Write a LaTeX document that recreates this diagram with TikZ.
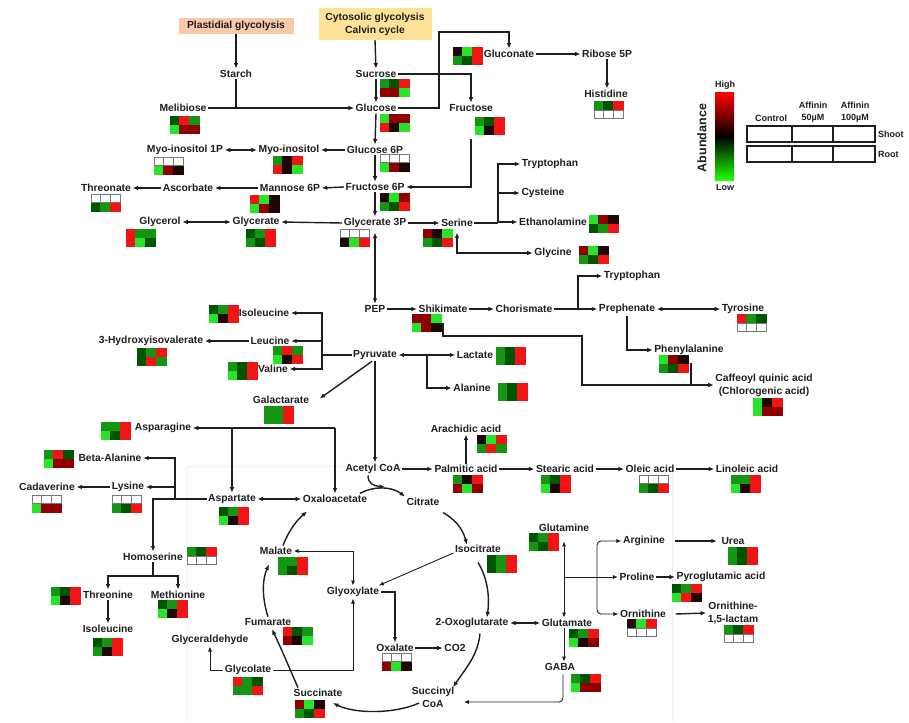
\documentclass[tikz,border=0pt]{standalone}
\usepackage{fontspec}
\setmainfont{Liberation Sans}
\usetikzlibrary{arrows.meta,calc}
\definecolor{hG}{RGB}{40,228,40}\definecolor{bG}{RGB}{40,228,40}
\definecolor{hg}{RGB}{20,150,20}\definecolor{bg}{RGB}{20,150,20}
\definecolor{hd}{RGB}{0,85,0}\definecolor{bd}{RGB}{0,85,0}
\definecolor{hk}{RGB}{30,8,5}\definecolor{bk}{RGB}{30,8,5}
\definecolor{hr}{RGB}{145,0,0}\definecolor{br}{RGB}{145,0,0}
\definecolor{hR}{RGB}{240,20,20}\definecolor{bR}{RGB}{240,20,20}
\definecolor{hW}{RGB}{255,255,255}\definecolor{bW}{RGB}{120,120,120}
\definecolor{txt}{RGB}{30,30,30}
\definecolor{peach}{RGB}{248,202,172}
\definecolor{gold}{RGB}{252,226,150}
\newcommand{\hmap}[3]{%
  \begin{scope}[shift={(#1)}]
    \foreach \c [count=\i from 0] in {#2} {\path[fill=h\c, draw=b\c, line width=0.7pt] (\i*9.8,0) rectangle ++(9.8,8);}
    \foreach \c [count=\i from 0] in {#3} {\path[fill=h\c, draw=b\c, line width=0.7pt] (\i*9.8,9.8) rectangle ++(9.8,8);}
  \end{scope}}
\tikzset{
  lbl/.style={font=\bfseries\fontsize{10.3}{12.8}\selectfont, text=txt, inner sep=1.5pt, align=center},
  leg/.style={font=\bfseries\fontsize{9}{11.5}\selectfont, text=txt, inner sep=1pt, align=center},
  conn/.style={line width=1.4pt, draw=txt},
  arr/.style={conn, -{Latex[length=5.5pt,width=4.6pt]}},
  darr/.style={conn, {Latex[length=5.5pt,width=4.6pt]}-{Latex[length=5.5pt,width=4.6pt]}},
  thn/.style={line width=0.9pt, draw=txt},
  tarr/.style={thn, -{Latex[length=5pt,width=4.2pt]}},
  tdarr/.style={thn, {Latex[length=5pt,width=4.2pt]}-{Latex[length=5pt,width=4.2pt]}},
}
\begin{document}
\begin{tikzpicture}[x=1pt,y=-1pt]
\useasboundingbox (0,0) rectangle (909,722);
\fill[white] (0,0) rectangle (909,722);
\draw[gray!12, line width=0.6pt] (187,722) -- (187,466) -- (672,466) -- (672,722);
% ---------- boxes
\node[lbl, fill=peach, minimum width=115pt, minimum height=16pt] (plast) at (236,26) {Plastidial glycolysis};
\node[lbl, fill=gold, minimum width=113pt, minimum height=32pt] (cyto) at (375,24) {Cytosolic glycolysis\\Calvin cycle};
% ---------- labels
\node[lbl] (starch) at (236,74) {Starch};
\node[lbl] (sucrose) at (376,74) {Sucrose};
\node[lbl] (melibiose) at (183,108) {Melibiose};
\node[lbl] (glucose) at (376,108) {Glucose};
\node[lbl] (fructose) at (471,108) {Fructose};
\node[lbl] (gluconate) at (509,54) {Gluconate};
\node[lbl] (ribose) at (607,54) {Ribose 5P};
\node[lbl] (histidine) at (606,94) {Histidine};
\node[lbl] (myo1p) at (185,150) {Myo-inositol 1P};
\node[lbl] (myo) at (289,150) {Myo-inositol};
\node[lbl] (g6p) at (375,150) {Glucose 6P};
\node[lbl] (threonate) at (106,188) {Threonate};
\node[lbl] (ascorbate) at (188,188) {Ascorbate};
\node[lbl] (man6p) at (290,188) {Mannose 6P};
\node[lbl] (f6p) at (375,187) {Fructose 6P};
\node[lbl] (glycerol) at (160,222) {Glycerol};
\node[lbl] (glycerate) at (256,222) {Glycerate};
\node[lbl] (g3p) at (375,223) {Glycerate 3P};
\node[lbl] (serine) at (457,223) {Serine};
\node[lbl] (trp1) at (550,164) {Tryptophan};
\node[lbl] (cys) at (543,193) {Cysteine};
\node[lbl] (ethanol) at (553,222) {Ethanolamine};
\node[lbl] (glycine) at (553,253) {Glycine};
\node[lbl] (pep) at (375,309) {PEP};
\node[lbl] (shik) at (443,309) {Shikimate};
\node[lbl] (chor) at (524,309) {Chorismate};
\node[lbl] (trp2) at (632,276) {Tryptophan};
\node[lbl] (preph) at (627,309) {Prephenate};
\node[lbl] (tyr) at (743,309) {Tyrosine};
\node[lbl] (phe) at (689,350) {Phenylalanine};
\node[lbl] (caff) at (764,385) {Caffeoyl quinic acid\\(Chlorogenic acid)};
\node[lbl] (ile1) at (264,313) {Isoleucine};
\node[lbl] (leu) at (270,341) {Leucine};
\node[lbl] (hiv) at (151,341) {3-Hydroxyisovalerate};
\node[lbl] (val) at (273,369) {Valine};
\node[lbl] (pyr) at (375,355) {Pyruvate};
\node[lbl] (lact) at (475,355) {Lactate};
\node[lbl] (ala) at (472,388) {Alanine};
\node[lbl] (galact) at (281,400) {Galactarate};
\node[lbl] (asn) at (163,428) {Asparagine};
\node[lbl] (arach) at (466,429) {Arachidic acid};
\node[lbl] (bala) at (110,458) {Beta-Alanine};
\node[lbl] (acoa) at (373,469) {Acetyl CoA};
\node[lbl] (palm) at (466,469) {Palmitic acid};
\node[lbl] (stear) at (565,469) {Stearic acid};
\node[lbl] (oleic) at (650,469) {Oleic acid};
\node[lbl] (linol) at (747,469) {Linoleic acid};
\node[lbl] (cadav) at (47,487) {Cadaverine};
\node[lbl] (lys) at (128,487) {Lysine};
\node[lbl] (asp) at (232,499) {Aspartate};
\node[lbl] (oaa) at (335,499) {Oxaloacetate};
\node[lbl] (cit) at (423,502) {Citrate};
\node[lbl] (glutamine) at (564,528) {Glutamine};
\node[lbl] (iso) at (478,549) {Isocitrate};
\node[lbl] (malate) at (276,551) {Malate};
\node[lbl] (arg) at (644,541) {Arginine};
\node[lbl] (urea) at (733,541) {Urea};
\node[lbl] (homoser) at (153,557) {Homoserine};
\node[lbl] (pro) at (637,577) {Proline};
\node[lbl] (pyroglu) at (721,577) {Pyroglutamic acid};
\node[lbl] (glyox) at (353,592) {Glyoxylate};
\node[lbl] (thr) at (108,595) {Threonine};
\node[lbl] (met) at (178,595) {Methionine};
\node[lbl] (ornith) at (643,614) {Ornithine};
\node[lbl] (lactam) at (733,613) {Ornithine-\\1,5-lactam};
\node[lbl] (fum) at (268,622) {Fumarate};
\node[lbl] (oxog) at (472,623) {2-Oxoglutarate};
\node[lbl] (glu) at (567,623) {Glutamate};
\node[lbl] (ile2) at (108,629) {Isoleucine};
\node[lbl] (glyald) at (210,640) {Glyceraldehyde};
\node[lbl] (oxal) at (395,648) {Oxalate};
\node[lbl] (co2) at (455,648) {CO2};
\node[lbl] (gaba) at (560,667) {GABA};
\node[lbl] (glycol) at (248,670) {Glycolate};
\node[lbl] (succ) at (318,693) {Succinate};
\node[lbl] (succoa) at (433,697) {Succinyl\\CoA};
% ---------- heatmaps
\hmap{170,116}{d,R,g}{G,r,r}
\hmap{154,157}{W,W,W}{G,r,k}
\hmap{273,156}{g,k,R}{R,k,G}
\hmap{91,194}{W,W,W}{d,g,R}
\hmap{250,195}{R,G,k}{G,r,k}
\hmap{126,229}{R,g,g}{R,G,d}
\hmap{246,229}{d,g,R}{g,d,R}
\hmap{340,229}{W,W,W}{k,G,R}
\hmap{380,193}{k,G,r}{g,d,R}
\hmap{423,229}{r,k,G}{g,d,R}
\hmap{589,215}{G,r,k}{d,g,R}
\hmap{579,246}{r,G,k}{g,d,R}
\hmap{380,79}{g,d,R}{r,r,G}
\hmap{380,114}{G,r,r}{R,k,G}
\hmap{475,117}{g,d,R}{G,k,R}
\hmap{453,47}{k,G,R}{g,d,R}
\hmap{594,101}{g,d,R}{W,W,W}
\hmap{380,154}{W,W,W}{G,r,k}
\hmap{209,305}{d,g,R}{G,k,R}
\hmap{273,346}{g,R,g}{G,k,R}
\hmap{137,348}{d,g,R}{d,R,g}
\hmap{228,362}{g,d,R}{G,d,R}
\hmap{264,406}{g,g,R}{g,g,R}
\hmap{101,422}{g,g,R}{G,d,R}
\hmap{44,450}{g,R,d}{G,r,r}
\hmap{112,495}{W,W,W}{g,d,R}
\hmap{32,495}{W,W,W}{G,r,r}
\hmap{219,507}{d,g,R}{G,k,R}
\hmap{187,547}{g,d,R}{W,W,W}
\hmap{51,587}{g,d,R}{G,k,R}
\hmap{158,600}{d,g,R}{G,k,R}
\hmap{93,638}{d,g,R}{g,k,R}
\hmap{278,557}{g,g,R}{g,d,R}
\hmap{283,627}{R,d,g}{r,k,G}
\hmap{233,677}{R,g,d}{g,g,R}
\hmap{295,700}{r,G,k}{g,d,R}
\hmap{382,653}{W,W,W}{r,G,k}
\hmap{487,555}{d,g,R}{d,g,R}
\hmap{529,533}{d,g,R}{g,d,R}
\hmap{569,629}{d,g,R}{G,k,r}
\hmap{571,674}{g,d,R}{G,r,r}
\hmap{728,547}{g,d,R}{g,d,R}
\hmap{672,584}{d,g,R}{G,R,k}
\hmap{627,619}{k,G,R}{W,W,W}
\hmap{724,625}{g,d,R}{W,W,W}
\hmap{412,314}{r,r,G}{G,r,k}
\hmap{737,314}{R,g,d}{W,W,W}
\hmap{659,355}{G,r,k}{g,d,R}
\hmap{753,398}{G,k,R}{G,r,r}
\hmap{496,347}{g,d,R}{g,d,R}
\hmap{498,383}{g,d,R}{g,d,R}
\hmap{477,435}{k,G,R}{g,R,g}
\hmap{453,475}{g,k,R}{r,G,r}
\hmap{541,475}{g,d,R}{G,k,R}
\hmap{639,475}{W,W,W}{g,d,R}
\hmap{731,475}{g,g,R}{G,k,R}
% ---------- connectors (top)
\draw[arr] (plast.south) -- (starch.north);
\draw[arr] (cyto.south) -- (sucrose.north);
\draw[conn] (starch.south) -- (starch.south |- melibiose);
\draw[arr] (melibiose.east) -- (glucose.west);
\draw[arr] (sucrose.south) -- (glucose.north);
\draw[arr] (sucrose.east) -| (fructose.north);
\draw[arr] (glucose.east) -| (439,32) -| (gluconate.north);
\draw[arr] (gluconate.east) -- (ribose.west);
\draw[arr] (ribose.south) -- (ribose.south |- histidine.north);
\draw[arr] (glucose.south) -- (g6p.north);
\draw[arr] (g6p.west) -- (myo.east);
\draw[darr] (myo1p.east) -- (myo.west);
\draw[arr] (g6p.south) -- (f6p.north);
\draw[arr] ([yshift=-26pt]fructose.south) |- (f6p.east);
\draw[arr] (f6p.west) -- (man6p.east);
\draw[arr] (man6p.west) -- (ascorbate.east);
\draw[arr] (ascorbate.west) -- (threonate.east);
\draw[arr] (f6p.south) -- (g3p.north);
\draw[arr] (g3p.west) -- (glycerate.east);
\draw[darr] (glycerol.east) -- (glycerate.west);
\draw[arr] (g3p.east) -- (serine.west);
\coordinate (sb) at (498,223);
\draw[conn] (serine.east) -- (sb);
\draw[arr] (sb) |- (trp1.west);
\draw[arr] (sb) |- (cys.west);
\draw[arr] (sb) |- (ethanol.west);
\draw[darr] ([yshift=-4pt]serine.south) |- (glycine.west);
\draw[darr] ([yshift=-3pt]g3p.south) -- (pep.north);
% ---------- middle
\draw[arr] (pep.east) -- (shik.west);
\draw[arr] (shik.east) -- (chor.west);
\coordinate (cb) at (578,309);
\draw[conn] (chor.east) -- (cb);
\draw[arr] (cb) |- (trp2.west);
\draw[arr] (cb) -- (preph.west);
\draw[darr] (preph.east) -- (tyr.west);
\draw[arr] (preph.south) |- (phe.west);
\draw[arr] ([yshift=-9pt]shik.south) |- (582,336) |- (caff.west);
\draw[conn] ([xshift=2pt,yshift=-6pt]phe.south) -- ([xshift=2pt]phe.south |- caff.west);
\coordinate (bb) at (322,355);
\draw[conn] (pyr.west) -- (bb);
\draw[arr] (bb) |- (ile1.east);
\draw[arr] (bb) |- (leu.east);
\draw[arr] (bb) |- (val.east);
\draw[arr] (leu.west) -- (hiv.east);
\draw[arr] ([xshift=-3pt]pyr.south) -- ([xshift=9pt,yshift=-4pt]galact.north east);
\draw[arr] (pyr.south) -- (pyr.south |- acoa.north);
\draw[darr] (pyr.east) -- (lact.west);
\draw[arr] (427,355) |- (ala.west);
\draw[arr] (acoa.east) -- (palm.west);
\draw[arr] (palm.north) -- (arach.south);
\draw[arr] (palm.east) -- (stear.west);
\draw[arr] (stear.east) -- (oleic.west);
\draw[arr] (oleic.east) -- (linol.west);
% ---------- aspartate family
\coordinate (ob) at (335,428);
\draw[arr] (ob) -- (asn.east);
\draw[arr] (ob) -- (oaa.north);
\draw[arr] (asp.north |- ob) -- (asp.north);
\draw[arr] (asp.west) -| (homoser.north);
\coordinate (ab) at (175,499);
\draw[arr] (ab) |- (bala.east);
\draw[arr] (ab) |- (lys.east);
\draw[arr] (lys.west) -- (cadav.east);
\coordinate (hb) at (153,576);
\draw[conn] (homoser.south) -- (hb);
\draw[arr] (hb) -| (thr.north);
\draw[arr] (hb) -| (met.north);
\draw[arr] (thr.south) -- (ile2.north);
% ---------- TCA
\draw[darr] (asp.east) -- (oaa.west);
\draw[arr] ([xshift=-9pt]oaa.north east) .. controls (373,486) and (391,486) .. (cit.north west);
\coordinate (acm) at (385,487);
\draw[arr] ([xshift=-5pt]acoa.south) .. controls (368,484) and (374,486) .. (acm);
\draw[arr] ([xshift=2pt,yshift=-5pt]cit.south east) .. controls (454,519) and (462,527) .. ([xshift=-11pt,yshift=-1pt]iso.north);
\draw[arr] ([yshift=-8pt]iso.south) .. controls (487,577) and (490,596) .. ([xshift=15pt,yshift=-1pt]oxog.north);
\draw[tarr] ([yshift=-4pt]iso.west) -- ([xshift=-2pt]glyox.north east);
\draw[tdarr] (malate.east) -| (glyox.north);
\draw[arr] ([xshift=7pt]malate.north) .. controls (289,530) and (297,520) .. ([xshift=-28pt,yshift=-7pt]oaa.south);
\draw[arr] (fum.north) .. controls (262,598) and (262,580) .. ([xshift=-7pt,yshift=-8pt]malate.south);
\draw[arr] ([xshift=-20pt]succ.north) .. controls (291,672) and (282,650) .. ([xshift=4pt,yshift=-2pt]fum.south);
\draw[arr] ([xshift=9pt,yshift=-6pt]succoa.west) .. controls (395,714) and (355,714) .. ([xshift=-11pt,yshift=-10pt]succ.east);
\draw[arr] ([xshift=8pt,yshift=-4pt]oxog.south) .. controls (478,655) and (466,668) .. ([xshift=20pt,yshift=-2pt]succoa.north);
\draw[darr] (oxog.east) -- (glu.west);
\draw[tdarr] ([yshift=-8pt]glutamine.south) -- (glutamine.south |- glu.north);
\draw[tarr] (glutamine.south |- glu.south) -- (glutamine.south |- gaba.north);
\coordinate (gb) at (564,577);
\draw[tarr] (gb) -- (pro.west);
\draw[tarr, rounded corners=4pt] (597,577) |- (arg.west);
\draw[tarr, rounded corners=4pt] (597,577) |- (ornith.west);
\draw[arr] ([xshift=8pt]arg.east) -- ([xshift=-3pt]urea.west);
\draw[arr] (pro.east) -- (pyroglu.west);
\draw[arr] ([xshift=8pt]ornith.east) -- (lactam.west);
\draw[tarr, rounded corners=4pt] ([xshift=3pt,yshift=-2pt]gaba.south) |- ([xshift=8pt,yshift=-5pt]succoa.east);
\draw[arr] (glyox.east) -| (oxal.north);
\draw[arr] (oxal.east) -- (co2.west);
\draw[tarr] (glycol.east) -| (glyox.south);
\draw[tarr] (glycol.west) -| (glyald.south);
% ---------- legend
\shade[top color=red, bottom color=green!85!lime, middle color=black] (715,93) rectangle (734,180);
\node[leg] (high) at (725,85) {High};
\node[leg] (low) at (725,187) {Low};
\node[font=\bfseries\fontsize{12.5}{14}\selectfont, text=txt, rotate=90] (abund) at (702,138) {Abundance};
\draw[line width=1.4pt, draw=txt] (747,126) rectangle (875,142);
\draw[line width=1.4pt, draw=txt] (747,146) rectangle (875,162);
\draw[line width=1.4pt, draw=txt] (792,126) -- (792,142) (833,126) -- (833,142) (792,146) -- (792,162) (833,146) -- (833,162);
\node[leg] (ctl) at (771,118) {Control};
\node[leg] (a50) at (813,112) {Affinin\\50µM};
\node[leg] (a100) at (855,112) {Affinin\\100µM};
\node[leg, anchor=west] (shoot) at (877,134) {Shoot};
\node[leg, anchor=west] (root) at (877,154) {Root};
\end{tikzpicture}
\end{document}
